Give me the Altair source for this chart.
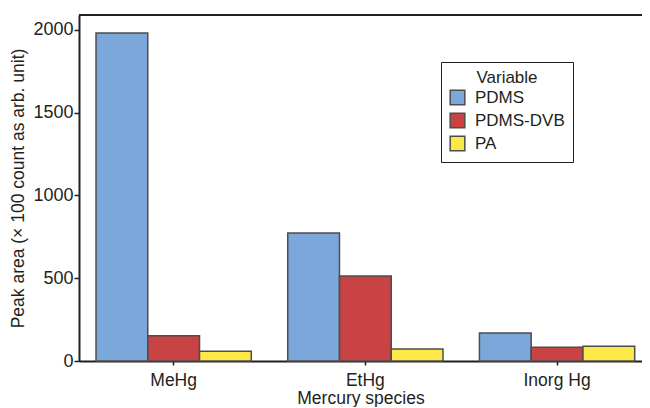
import altair as alt
import pandas as pd

species = ["MeHg", "EtHg", "Inorg Hg"]
variables = ["PDMS", "PDMS-DVB", "PA"]
pdms = [1982, 773, 169]
pdms_dvb = [153, 514, 83]
pa = [59, 72, 89]
colors = ["#7BA7DA", "#C94244", "#FDE84A"]

rows = []
for i, s in enumerate(species):
    for v, vals in zip(variables, [pdms, pdms_dvb, pa]):
        rows.append({"species": s, "Variable": v, "value": vals[i]})
df = pd.DataFrame(rows)

FONT = "Liberation Sans"
INK = "#231f20"
W, H = 563, 346

bars = alt.Chart(df).mark_bar(stroke="#4d4d4d", strokeWidth=1.5).encode(
    x=alt.X("species:N", sort=species,
            scale=alt.Scale(paddingInner=0.19, paddingOuter=0.0634, align=0.7),
            axis=alt.Axis(title="Mercury species", labelAngle=0, labelFontSize=17.5,
                          titleFontSize=17.5, titleFontWeight="normal", labelColor=INK,
                          titleColor=INK, domainColor=INK, domainWidth=2,
                          tickColor=INK, tickSize=4, tickWidth=1.5,
                          labelPadding=6, titlePadding=1, labelFont=FONT, titleFont=FONT)),
    xOffset=alt.XOffset("Variable:N", sort=variables, scale=alt.Scale(paddingInner=0, paddingOuter=0)),
    y=alt.Y("value:Q", scale=alt.Scale(domain=[0, 2090], nice=False),
            axis=alt.Axis(title="Peak area (× 100 count as arb. unit)", values=[0, 500, 1000, 1500, 2000],
                          format="d", grid=False, labelFontSize=18, titleFontSize=17.5,
                          titleFontWeight="normal",
                          labelColor=INK, titleColor=INK, domainColor=INK,
                          domainWidth=2, tickColor=INK, tickSize=5, tickWidth=1.5,
                          labelPadding=1, titlePadding=5, labelFont=FONT, titleFont=FONT)),
    fill=alt.Fill("Variable:N", sort=variables,
                  scale=alt.Scale(domain=variables, range=colors),
                  legend=alt.Legend(orient="none", legendX=362, legendY=47,
                                    title="Variable", titleFontSize=17, titleFontWeight="normal",
                                    titleAnchor="middle",
                                    labelFontSize=17, titleFont=FONT, labelFont=FONT,
                                    titleColor=INK, labelColor=INK,
                                    symbolType="square", symbolSize=215,
                                    symbolStrokeColor="#4d4d4d", symbolStrokeWidth=1.5,
                                    strokeColor=INK, padding=8, rowPadding=2,
                                    titlePadding=2, offset=0, labelOffset=9)),
)

top_line = alt.Chart(pd.DataFrame({"k": [0]})).mark_rule(color=INK, strokeWidth=2).encode(
    x=alt.value(0), x2=alt.value(W), y=alt.value(0)
)

chart = alt.layer(bars, top_line).properties(
    width=W, height=H,
    autosize=alt.AutoSizeParams(type="none"),
    padding={"left": 71, "top": 7, "right": 0, "bottom": 46},
).configure_view(
    stroke=None
)

chart.save("out.html", embed_options={"renderer": "svg", "actions": False})
